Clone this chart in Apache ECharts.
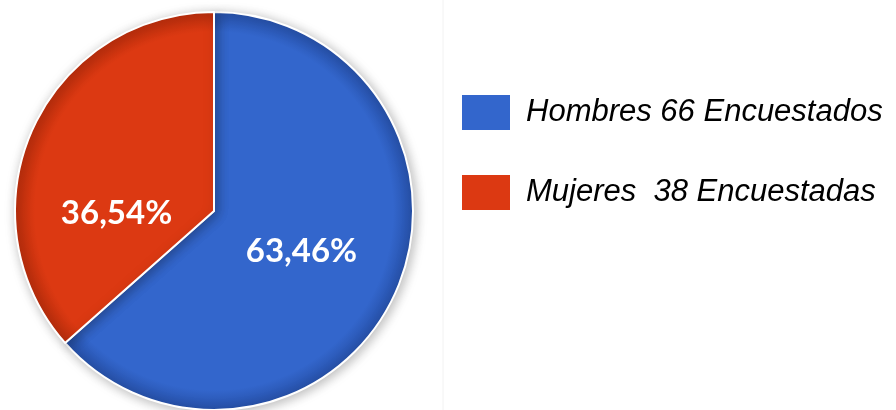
<!DOCTYPE html>
<html>
<head>
<meta charset="utf-8">
<script src="https://cdn.jsdelivr.net/npm/echarts@6/dist/echarts.min.js"></script>
<style>
  html, body { margin: 0; padding: 0; background: #ffffff; }
  #chart { width: 896px; height: 410px; }
</style>
</head>
<body>
<div id="chart"></div>
<script>
// Survey respondents by sex
const categories = ['Hombres 66 Encuestados', 'Mujeres  38 Encuestadas'];
const respondents = [66, 38];
const sliceColors = ['#3366cc', '#dc3912'];
const sliceEdgeColors = ['#2650a8', '#b82d0c'];
// per-slice label nudges (px) so the percentages sit where they read best
const labelOffsets = [[-6, -2], [-4, 44]];

const CX = 214, CY = 211, R = 199;

const chart = echarts.init(document.getElementById('chart'), null, { renderer: 'canvas' });

// slight darkening toward the rim gives the slices a soft bevel
function rimShade(base, edge) {
  return new echarts.graphic.RadialGradient(CX, CY, R, [
    { offset: 0, color: base },
    { offset: 0.9, color: base },
    { offset: 1, color: edge }
  ], true);
}

const pieData = categories.map((name, i) => ({
  name: name,
  value: respondents[i],
  itemStyle: { color: rimShade(sliceColors[i], sliceEdgeColors[i]) },
  label: { offset: labelOffsets[i] }
}));

chart.setOption({
  animation: false,
  legend: {
    orient: 'vertical',
    left: 460,
    top: 93,
    padding: 0,
    itemWidth: 50,
    itemHeight: 37,
    itemGap: 41,
    icon: 'rect',
    textStyle: {
      fontFamily: 'Liberation Sans, Arial, sans-serif',
      fontStyle: 'italic',
      fontSize: 31,
      color: '#000000',
      padding: [0, 0, 0, 10]
    },
    data: categories.map((name, i) => ({ name: name, itemStyle: { color: sliceColors[i] } }))
  },
  graphic: [{
    type: 'line',
    shape: { x1: 443, y1: 0, x2: 443, y2: 410 },
    style: { stroke: '#f2f2f2', lineWidth: 1 }
  }],
  series: [{
    type: 'pie',
    center: [CX, CY],
    radius: [0, R],
    startAngle: 90,
    clockwise: true,
    itemStyle: {
      borderColor: '#ffffff',
      borderWidth: 2,
      shadowBlur: 12,
      shadowOffsetX: 2,
      shadowOffsetY: 2,
      shadowColor: 'rgba(0,0,0,0.28)'
    },
    label: {
      show: true,
      position: 'inside',
      color: '#ffffff',
      fontFamily: 'Lato, Open Sans, sans-serif',
      fontWeight: 'bold',
      fontSize: 33,
      formatter: p => p.percent.toFixed(2).replace('.', ',') + '%'
    },
    labelLine: { show: false },
    emphasis: { disabled: true },
    data: pieData
  }]
});
</script>
</body>
</html>
